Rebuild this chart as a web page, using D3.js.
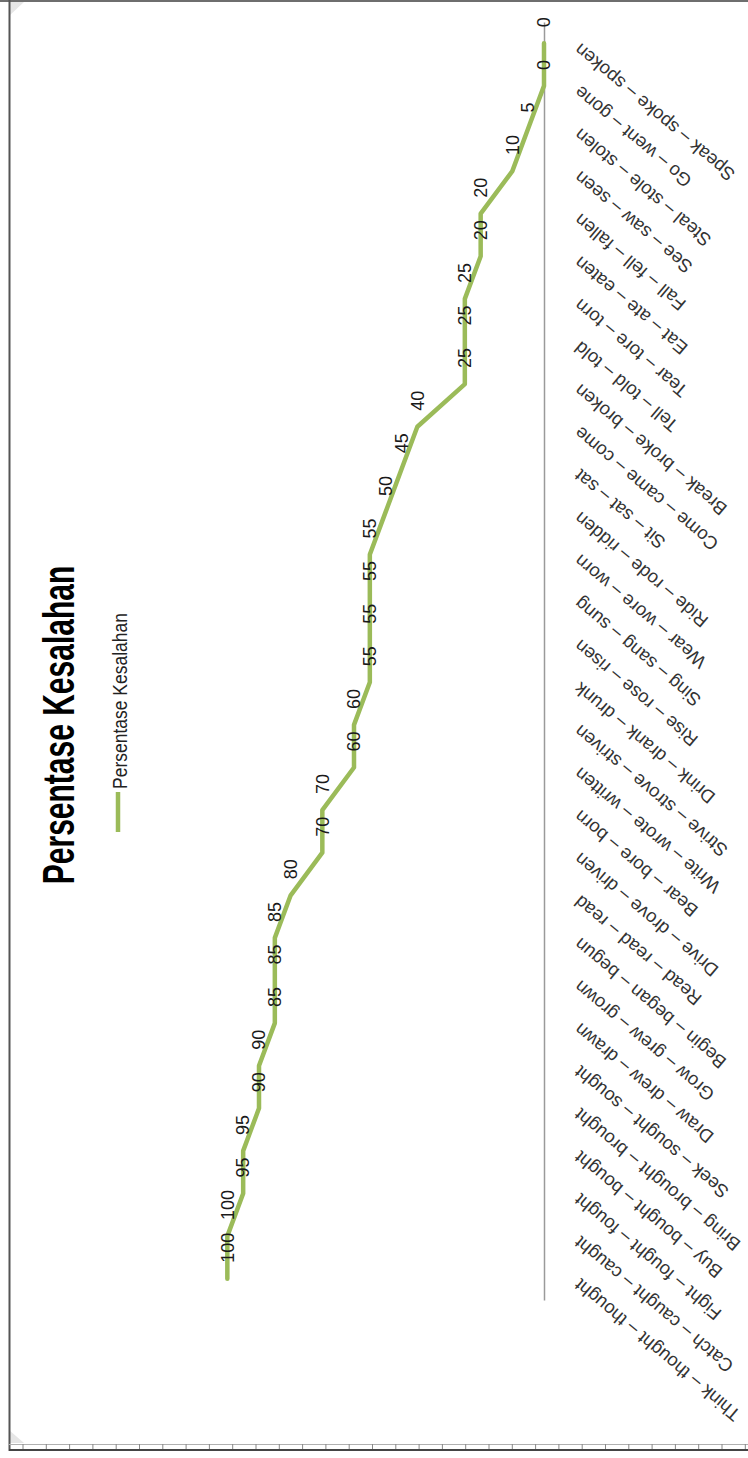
<!DOCTYPE html>
<html>
<head>
<meta charset="utf-8">
<script src="https://cdn.jsdelivr.net/npm/d3@7"></script>
<style>
  body { margin: 0; background: #fff; }
  svg { display: block; font-family: "Liberation Sans", Arial, sans-serif; }
</style>
</head>
<body>
<div id="chart"></div>
<script>
// categories in the order of the original (unrotated) chart, left to right
var categories = [
  "Think – thought – thought", "Catch – caught – caught", "Fight – fought – fought",
  "Buy – bought – bought", "Bring – brought – brought", "Seek – sought – sought",
  "Draw – drew – drawn", "Grow – grew – grown", "Begin – began – begun",
  "Read – read – read", "Drive – drove – driven", "Bear – bore – born",
  "Write – wrote – written", "Strive – strove – striven", "Drink – drank – drunk",
  "Rise – rose – risen", "Sing – sang – sung", "Wear – wore – worn",
  "Ride – rode – ridden", "Sit – sat – sat", "Come – came – come",
  "Break – broke – broken", "Tell – told – told", "Tear – tore – torn",
  "Eat – ate – eaten", "Fall – fell – fallen", "See – saw – seen",
  "Steal – stole – stolen", "Go – went – gone", "Speak – spoke – spoken"
];
var values = [100, 100, 95, 95, 90, 90, 85, 85, 85, 80, 70, 70, 60, 60, 55,
              55, 55, 55, 50, 45, 40, 25, 25, 25, 20, 20, 10, 5, 0, 0];
var seriesName = "Persentase Kesalahan";
var title = "Persentase Kesalahan";

var W = 748, H = 1458;
var green = "#9bbb59";

var svg = d3.select("#chart").append("svg")
  .attr("width", W).attr("height", H);

// page frame (screenshot border + ruler)
var frame = svg.append("g");
frame.append("path")
  .attr("d", "M9,2 L24,2 L9,16 Z").attr("fill", "#e6e6e6");
frame.append("path")
  .attr("d", "M9,1443 L24,1443 L9,1430 Z").attr("fill", "#e6e6e6");
frame.append("line").attr("x1", 0).attr("x2", W).attr("y1", 1).attr("y2", 1)
  .attr("stroke", "#6e6e6e").attr("stroke-width", 2);
frame.append("line").attr("x1", 9.5).attr("x2", 9.5).attr("y1", 0).attr("y2", 1451)
  .attr("stroke", "#555").attr("stroke-width", 2);
frame.append("line").attr("x1", 9).attr("x2", W).attr("y1", 1444.5).attr("y2", 1444.5)
  .attr("stroke", "#b0b0b0").attr("stroke-width", 1);
frame.append("line").attr("x1", 9).attr("x2", W).attr("y1", 1450).attr("y2", 1450)
  .attr("stroke", "#444").attr("stroke-width", 2);
frame.selectAll("line.rt").data(d3.range(23, W, 23.3)).enter().append("line")
  .attr("class", "rt")
  .attr("x1", function(d) { return d; }).attr("x2", function(d) { return d; })
  .attr("y1", 1444).attr("y2", 1449)
  .attr("stroke", "#888").attr("stroke-width", 1);

// chart is drawn rotated: categories run bottom -> top, values grow to the left
var y = d3.scaleBand()
  .domain(categories)
  .range([1300, 22])
  .padding(0);

var x = d3.scaleLinear()
  .domain([0, 120])
  .range([544, 164]);

var bw = y.bandwidth();
var data = categories.map(function(c, i) { return {c: c, v: values[i]}; });

// category axis
var axis = svg.append("g")
  .attr("transform", "translate(544,0)")
  .call(d3.axisRight(y).tickSize(0).tickSizeOuter(0));

axis.select(".domain").attr("stroke", "#9a9a9a").attr("stroke-width", 1.5);
axis.selectAll("text")
  .attr("x", 0).attr("dy", null)
  .attr("transform", "translate(37,-1) rotate(-140)")
  .attr("text-anchor", "end")
  .attr("fill", "#333")
  .style("font-size", "18.5px")
  .style("font-family", "'Liberation Sans', Arial, sans-serif");

// line
var line = d3.line()
  .x(function(d) { return x(d.v); })
  .y(function(d) { return y(d.c) + bw / 2; });

svg.append("path")
  .datum(data)
  .attr("d", line)
  .attr("fill", "none")
  .attr("stroke", green)
  .attr("stroke-width", 4.5)
  .attr("stroke-linejoin", "round")
  .attr("stroke-linecap", "round");

// data labels
svg.selectAll(".lbl")
  .data(data)
  .enter().append("text")
  .attr("class", "lbl")
  .attr("transform", function(d) {
    return "translate(" + (x(d.v)) + "," + (y(d.c) + bw / 2 - 16) + ") rotate(-90)";
  })
  .attr("dy", "0.35em")
  .attr("text-anchor", "start")
  .attr("fill", "#1a1a1a")
  .style("font-size", "18px")
  .text(function(d) { return d.v; });

// title
svg.append("text")
  .attr("transform", "translate(58,725) scale(1.5,1) rotate(-90)")
  .attr("dy", "0.35em")
  .attr("text-anchor", "middle")
  .attr("fill", "#000")
  .style("font-size", "30px")
  .style("font-weight", "bold")
  .text(title);

// legend
svg.append("line")
  .attr("x1", 118).attr("x2", 118).attr("y1", 792).attr("y2", 832)
  .attr("stroke", green).attr("stroke-width", 4.5);
svg.append("text")
  .attr("transform", "translate(120,789) scale(1.15,1) rotate(-90)")
  .attr("dy", "0.35em")
  .attr("text-anchor", "start")
  .attr("fill", "#222")
  .style("font-size", "17.5px")
  .text(seriesName);
</script>
</body>
</html>
